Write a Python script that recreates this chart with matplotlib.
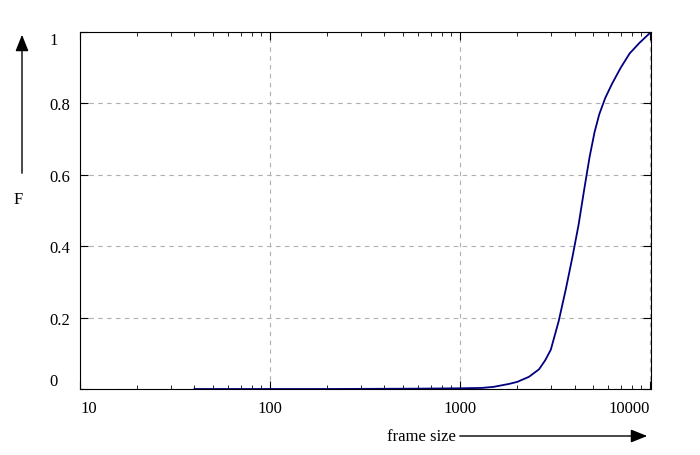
import matplotlib
matplotlib.use("Agg")
import matplotlib.pyplot as plt
from matplotlib.ticker import FixedLocator, LogLocator, NullFormatter

plt.rcParams['font.family'] = ['Liberation Serif', 'DejaVu Serif']

frame_size = [40, 200, 600, 1000, 1300, 1500, 1800, 2000, 2300, 2600, 2800, 3000,
              3300, 3600, 3900, 4200, 4500, 4800, 5100, 5400, 5800, 6300, 7000,
              7800, 8800, 10100]
F = [0.0, 0.0, 0.001, 0.002, 0.003, 0.006, 0.014, 0.02, 0.034, 0.055, 0.08, 0.11,
     0.19, 0.28, 0.37, 0.46, 0.56, 0.65, 0.72, 0.77, 0.815, 0.855, 0.9,
     0.94, 0.97, 1.0]
xticks = [10, 100, 1000, 10000]
xticklabels = ['10', '100', '1000', '10000']
yticks = [0, 0.2, 0.4, 0.6, 0.8, 1]
yticklabels = ['0', '0.2', '0.4', '0.6', '0.8', '1']

fig = plt.figure(figsize=(7, 4.56), dpi=100)
ax = fig.add_axes([80/700, 1-390/456, 571/700, 357/456])
ax.plot(frame_size, F, color='#000080', lw=1.3)
ax.set_xscale('log')
ax.set_xlim(10, 10100)
ax.set_ylim(0, 1)
ax.xaxis.set_major_locator(FixedLocator(xticks))
ax.set_xticklabels(xticklabels)
ax.xaxis.set_minor_locator(LogLocator(base=10, subs=range(2, 10)))
ax.xaxis.set_minor_formatter(NullFormatter())
ax.set_yticks(yticks)
ax.set_yticklabels(yticklabels)
ax.tick_params(direction='in', which='both', top=True, right=True, labelsize=12)
ax.tick_params(which='major', length=6)
ax.tick_params(which='minor', length=3)
ax.tick_params(axis='x', pad=8)
for l in ax.get_yticklabels():
    l.set_horizontalalignment('left')
ax.yaxis.set_tick_params(pad=28)
for l, dx in zip(ax.get_yticklabels(), yticks):
    pass
labs = ax.get_xticklabels()
labs[0].set_horizontalalignment('left')
labs[-1].set_horizontalalignment('right')
ylabs = ax.get_yticklabels()
ylabs[0].set_verticalalignment('bottom')
ylabs[-1].set_verticalalignment('top')
ax.yaxis.set_tick_params(pad=22)
ax.grid(True, which='major', ls=(0, (4, 4)), color='#b0b0b0', lw=0.8)

fig.text(18/700, 1-200/456, 'F', fontsize=12, ha='center', va='center')
fig.add_artist(matplotlib.patches.FancyArrowPatch((22/700, 1-177/456), (22/700, 1-33/456),
    transform=fig.transFigure, arrowstyle='-|>,head_length=10,head_width=4', color='black', lw=1))
fig.text(456/700, 1-437/456, 'frame size', fontsize=12, ha='right', va='center')
fig.add_artist(matplotlib.patches.FancyArrowPatch((457/700, 1-437/456), (650/700, 1-437/456),
    transform=fig.transFigure, arrowstyle='-|>,head_length=10,head_width=4', color='black', lw=1))

fig.savefig('out.png', dpi=100)
